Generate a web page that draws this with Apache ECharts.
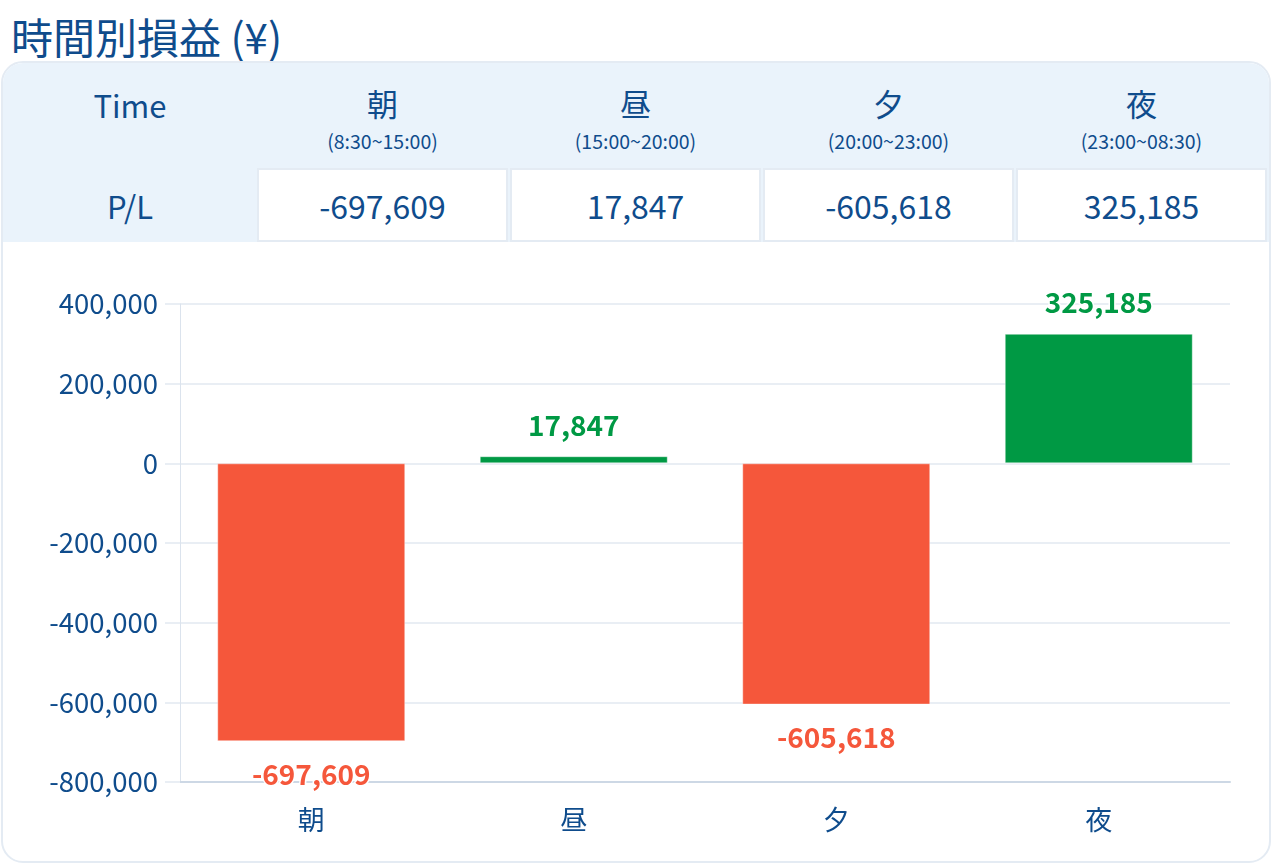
<!DOCTYPE html>
<html><head><meta charset="utf-8">
<script src="https://cdn.jsdelivr.net/npm/echarts@6/dist/echarts.min.js"></script>
<style>
html,body{margin:0;padding:0;background:#fff;width:1272px;height:866px;overflow:hidden;font-family:"Noto Sans CJK JP","Noto Sans",sans-serif;color:#0f4c8c;}
#title{position:absolute;left:11px;top:7px;font-size:42px;line-height:58px;color:#0f4c8c;white-space:nowrap;}
#card{position:absolute;left:1px;top:61px;width:1266px;height:798px;border:2px solid #e4ebf3;border-radius:22px;overflow:hidden;background:#fff;}
#hdr{position:absolute;left:0;top:0;width:1266px;height:105px;background:#eaf3fb;}
#row2{position:absolute;left:0;top:105px;width:1266px;height:74px;background:#eaf3fb;}
.cell{position:absolute;text-align:center;box-sizing:border-box;}
.h1{font-size:31px;line-height:38px;}
.h2{font-size:19.5px;line-height:24px;}
.val{background:#fff;border:2px solid #e4ebf3;font-size:32px;line-height:70px;}
#chart{position:absolute;left:0;top:0;width:1272px;height:866px;}
</style></head>
<body>
<div id="title">時間別損益 (¥)</div>
<div id="card"><div id="hdr"></div><div id="row2"></div></div>
<div id="chart"></div>
<script>
const categories = ['朝','昼','夕','夜'];
const timeRanges = ['(8:30~15:00)','(15:00~20:00)','(20:00~23:00)','(23:00~08:30)'];
const plValues = [-697609, 17847, -605618, 325185];
const yTicks = [-800000, -600000, -400000, -200000, 0, 200000, 400000];

const fmt = v => v.toLocaleString('en-US');
const blue = '#0f4c8c';
const red = '#f5573b';
const green = '#009944';

// table
const hdr = document.getElementById('hdr');
const row2 = document.getElementById('row2');
const colLeft = [254, 507, 760, 1013];
const colW = 251;
let t = document.createElement('div');
t.className = 'cell h1'; t.style.left='0px'; t.style.width='254px'; t.style.top='23px';
t.textContent = 'Time'; hdr.appendChild(t);
let p = document.createElement('div');
p.className = 'cell h1'; p.style.left='0px'; p.style.width='254px'; p.style.top='19px';
p.textContent = 'P/L'; row2.appendChild(p);
categories.forEach((c,i)=>{
  const a = document.createElement('div');
  a.className='cell h1'; a.style.left=colLeft[i]+'px'; a.style.width=colW+'px'; a.style.top='21px';
  a.textContent=c; hdr.appendChild(a);
  const b = document.createElement('div');
  b.className='cell h2'; b.style.left=colLeft[i]+'px'; b.style.width=colW+'px'; b.style.top='66px';
  b.textContent=timeRanges[i]; hdr.appendChild(b);
  const v = document.createElement('div');
  v.className='cell val'; v.style.left=colLeft[i]+'px'; v.style.width=colW+'px'; v.style.top='0px'; v.style.height='74px';
  v.textContent=fmt(plValues[i]); row2.appendChild(v);
});

const chart = echarts.init(document.getElementById('chart'), null, {renderer:'canvas'});
chart.setOption({
  animation:false,
  backgroundColor:'transparent',
  grid:{left:180, right:42, top:304, bottom:84, containLabel:false},
  xAxis:{
    type:'category', data:categories,
    axisLine:{show:true, onZero:false, lineStyle:{color:'#cdd8e5', width:2}},
    axisTick:{show:false},
    axisLabel:{color:blue, fontSize:27, margin:24, fontFamily:'Noto Sans CJK JP'}
  },
  yAxis:{
    type:'value', min:yTicks[0], max:yTicks[yTicks.length-1], interval:200000,
    axisLine:{show:true, lineStyle:{color:'#dbe3ed', width:1}},
    axisTick:{show:true, length:15, lineStyle:{color:'#e9eef4', width:2}},
    splitLine:{show:true, lineStyle:{color:'#e9eef4', width:2}},
    axisLabel:{color:blue, fontSize:27.5, margin:22, fontFamily:'Noto Sans CJK JP', formatter:v=>fmt(v)}
  },
  series:[{
    type:'bar', barWidth:188,
    data:plValues.map(v=>({
      value:v,
      itemStyle:{color: v>=0?green:red, borderColor:'rgba(255,255,255,0.4)', borderWidth:1},
      label:{show:true, position: v>=0?'top':'bottom', distance: v>=0?17:19, color: v>=0?green:red,
        fontSize:28, fontWeight:'bold', fontFamily:'Noto Sans CJK JP',
        textBorderColor:'#fff', textBorderWidth:3, formatter:p=>fmt(p.value)}
    }))
  }]
});
</script>
</body></html>
